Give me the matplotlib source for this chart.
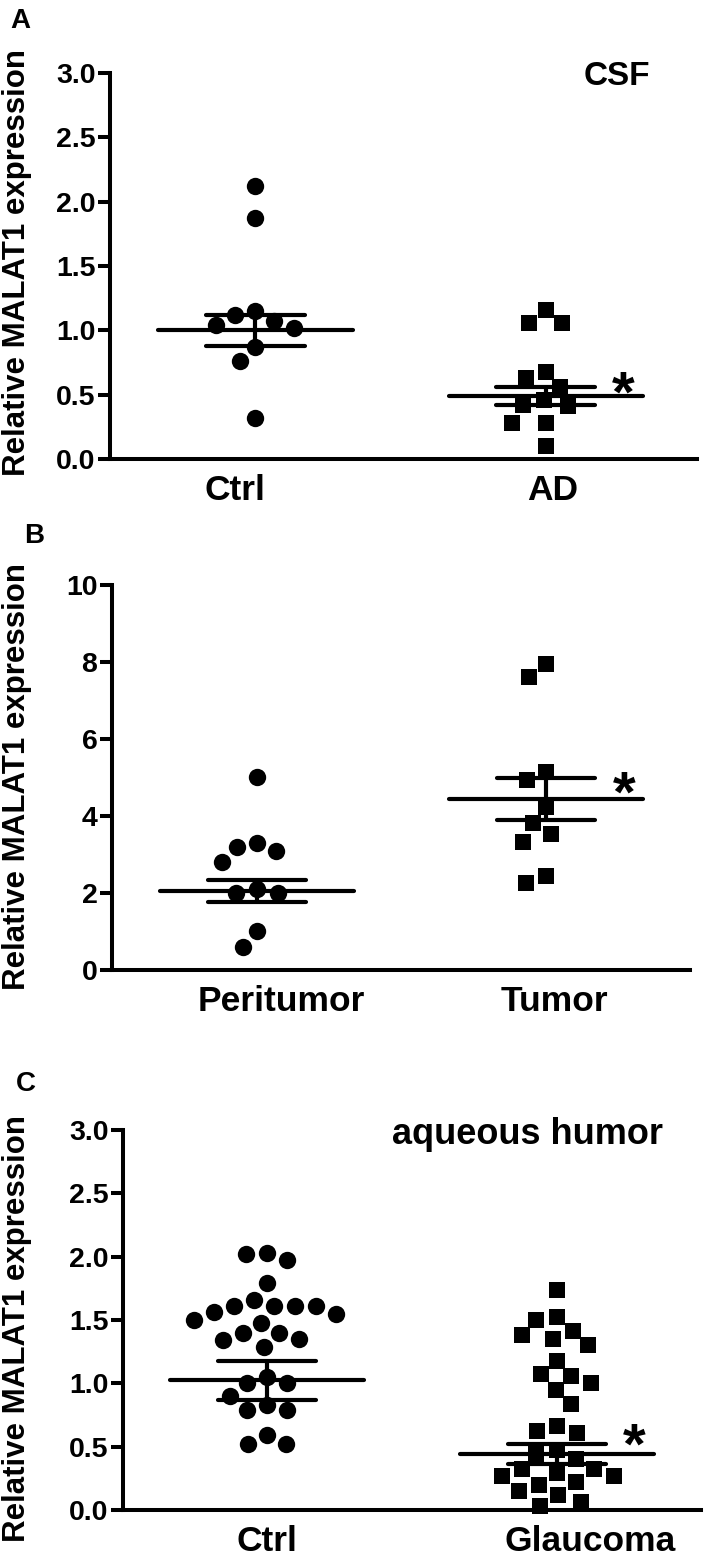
import matplotlib
matplotlib.use("Agg")
import matplotlib.pyplot as plt
import numpy as np
from matplotlib.transforms import ScaledTranslation

plt.rcParams['font.family'] = ['Liberation Sans', 'DejaVu Sans']
plt.rcParams['font.weight'] = 'bold'

# ---------------- data ----------------
a_groups = ['Ctrl', 'AD']
a_ctrl = [2.12, 1.87, 1.15, 1.12, 1.07, 1.04, 1.02, 0.87, 0.76, 0.32]
a_ad = [1.16, 1.06, 1.06, 0.68, 0.63, 0.56, 0.46, 0.41, 0.42, 0.28, 0.28, 0.10]
a_means = [1.00, 0.49]
a_sems = [0.12, 0.07]
a_yticks = [0.0, 0.5, 1.0, 1.5, 2.0, 2.5, 3.0]

b_groups = ['Peritumor', 'Tumor']
b_peri = [5.02, 3.31, 3.20, 3.09, 2.81, 2.10, 2.01, 1.99, 1.02, 0.61]
b_tumor = [7.94, 7.62, 5.15, 4.94, 4.24, 3.81, 3.52, 3.33, 2.44, 2.25]
b_means = [2.05, 4.44]
b_sems = [0.29, 0.55]
b_yticks = [0, 2, 4, 6, 8, 10]

c_groups = ['Ctrl', 'Glaucoma']
c_ctrl = [2.02, 1.97, 2.03, 1.79, 1.66, 1.61, 1.61, 1.55, 1.56, 1.61, 1.61,
          1.48, 1.50, 1.40, 1.40, 1.35, 1.34, 1.29, 1.00, 1.00, 1.05, 0.90,
          0.83, 0.79, 0.79, 0.59, 0.52, 0.52]
c_glau = [1.74, 1.52, 1.50, 1.38, 1.41, 1.35, 1.30, 1.18, 1.06, 1.07, 1.00,
          0.95, 0.84, 0.66, 0.62, 0.61, 0.47, 0.44, 0.40, 0.32, 0.27, 0.22,
          0.12, 0.20, 0.27, 0.29, 0.15, 0.32, 0.03, 0.06]
c_means = [1.024, 0.445]
c_sems = [0.153, 0.08]

ylabel = 'Relative MALAT1 expression'

# ---------------- layout ----------------
W, H, DPI = 709, 1560, 100
fig = plt.figure(figsize=(W / DPI, H / DPI), dpi=DPI)

LW = 3.0
MS = 12.5


def add_ax(left, top, right, bottom):
    return fig.add_axes([left / W, 1 - bottom / H, (right - left) / W, (bottom - top) / H])


def swarm(ax, xc, values, diam):
    vals = np.asarray(values, float)
    pix = ax.transData.transform(np.column_stack([np.full(len(vals), xc), vals]))
    ys = pix[:, 1]
    order = np.argsort(-vals, kind='stable')
    placed = []
    offs = np.zeros(len(vals))
    for i in order:
        y = ys[i]
        cands = [0.0]
        for px, py in placed:
            dy = abs(py - y)
            if dy < diam:
                dx = np.sqrt(diam ** 2 - dy ** 2)
                cands += [px - dx, px + dx]
        cands = sorted(cands, key=lambda c: (abs(c), c))
        choice = cands[-1]
        for c in cands:
            if all((c - px) ** 2 + (y - py) ** 2 >= diam ** 2 - 1e-6 for px, py in placed):
                choice = c
                break
        placed.append((choice, y))
        offs[i] = choice
    ppu = ax.transData.transform((1, 0))[0] - ax.transData.transform((0, 0))[0]
    return xc + offs / ppu


def panel(rect, groups, series, markers, means, sems, ylim, yticks, yfmt, xlim,
          label_shift, star, letter, letter_px, ylab_y):
    ax = add_ax(*rect)
    ax.set_xlim(*xlim)
    ax.set_ylim(*ylim)
    for s in ['top', 'right']:
        ax.spines[s].set_visible(False)
    for s in ['left', 'bottom']:
        ax.spines[s].set_linewidth(2.9)
        ax.spines[s].set_capstyle('projecting')
    xs = np.arange(len(groups))
    for x, vals, mk in zip(xs, series, markers):
        px = swarm(ax, x, vals, 21)
        ax.plot(px, vals, linestyle='none', marker=mk, ms=MS if mk == 'o' else MS * 0.92,
                color='black', mew=0, clip_on=False, zorder=3)
    for x, m, s in zip(xs, means, sems):
        ax.hlines(m, x - 0.335, x + 0.335, colors='black', lw=LW, capstyle='round', zorder=4)
        ax.hlines([m - s, m + s], x - 0.17, x + 0.17, colors='black', lw=LW, capstyle='round', zorder=4)
        ax.vlines(x, m - s, m + s, colors='black', lw=LW, zorder=4)
    ax.set_yticks(yticks)
    ax.set_yticklabels([yfmt.format(t) for t in yticks])
    ax.tick_params(axis='y', length=9, width=2.9, pad=1.5, labelsize=20.5)
    ax.set_xticks(xs)
    ax.set_xticklabels(groups)
    ax.tick_params(axis='x', length=0, pad=10.5, labelsize=25.5)
    for lab, dx in zip(ax.get_xticklabels(), label_shift):
        lab.set_transform(lab.get_transform() + ScaledTranslation(dx / DPI, 0, fig.dpi_scale_trans))
    for t in ax.get_yticklabels() + ax.get_xticklabels():
        t.set_fontweight('bold')
    sx, sy = star
    ax.annotate('*', xy=(sx, sy), xytext=(0, -8), textcoords='offset points',
                ha='center', va='center_baseline', fontsize=42, fontweight='bold',
                annotation_clip=False)
    fig.text(letter_px[0] / W, 1 - letter_px[1] / H, letter, ha='center',
             va='center_baseline', fontsize=20, fontweight='bold')
    fig.text(17 / W, 1 - ylab_y / H, ylabel, rotation=90, ha='center', va='center',
             fontsize=22.5, fontweight='bold')
    return ax


axA = panel((110, 73, 697, 459), a_groups, [a_ctrl, a_ad], ['o', 's'], a_means, a_sems,
            (0, 3.0), a_yticks, '{:.1f}', (-0.5, 1.52), [-20, 7], (1.265, 0.62),
            'A', (20, 18), 262)
axA.text(1.244, 3.0, 'CSF', ha='center', va='center_baseline', fontsize=24, fontweight='bold')

axB = panel((112, 585, 690, 970), b_groups, [b_peri, b_tumor], ['o', 's'], b_means, b_sems,
            (0, 10), b_yticks, '{:d}', (-0.502, 1.498), [24, 8], (1.27, 4.94),
            'B', (34, 533), 777)

axC = panel((123, 1130, 701, 1510), c_groups, [c_ctrl, c_glau], ['o', 's'], c_means, c_sems,
            (0, 3.0), a_yticks, '{:.1f}', (-0.497, 1.497), [0, 33], (1.266, 0.62),
            'C', (26, 1081), 1328)
axC.text(0.897, 3.0, 'aqueous humor', ha='center', va='center_baseline', fontsize=26,
         fontweight='bold')

fig.savefig('out.png', dpi=DPI)
